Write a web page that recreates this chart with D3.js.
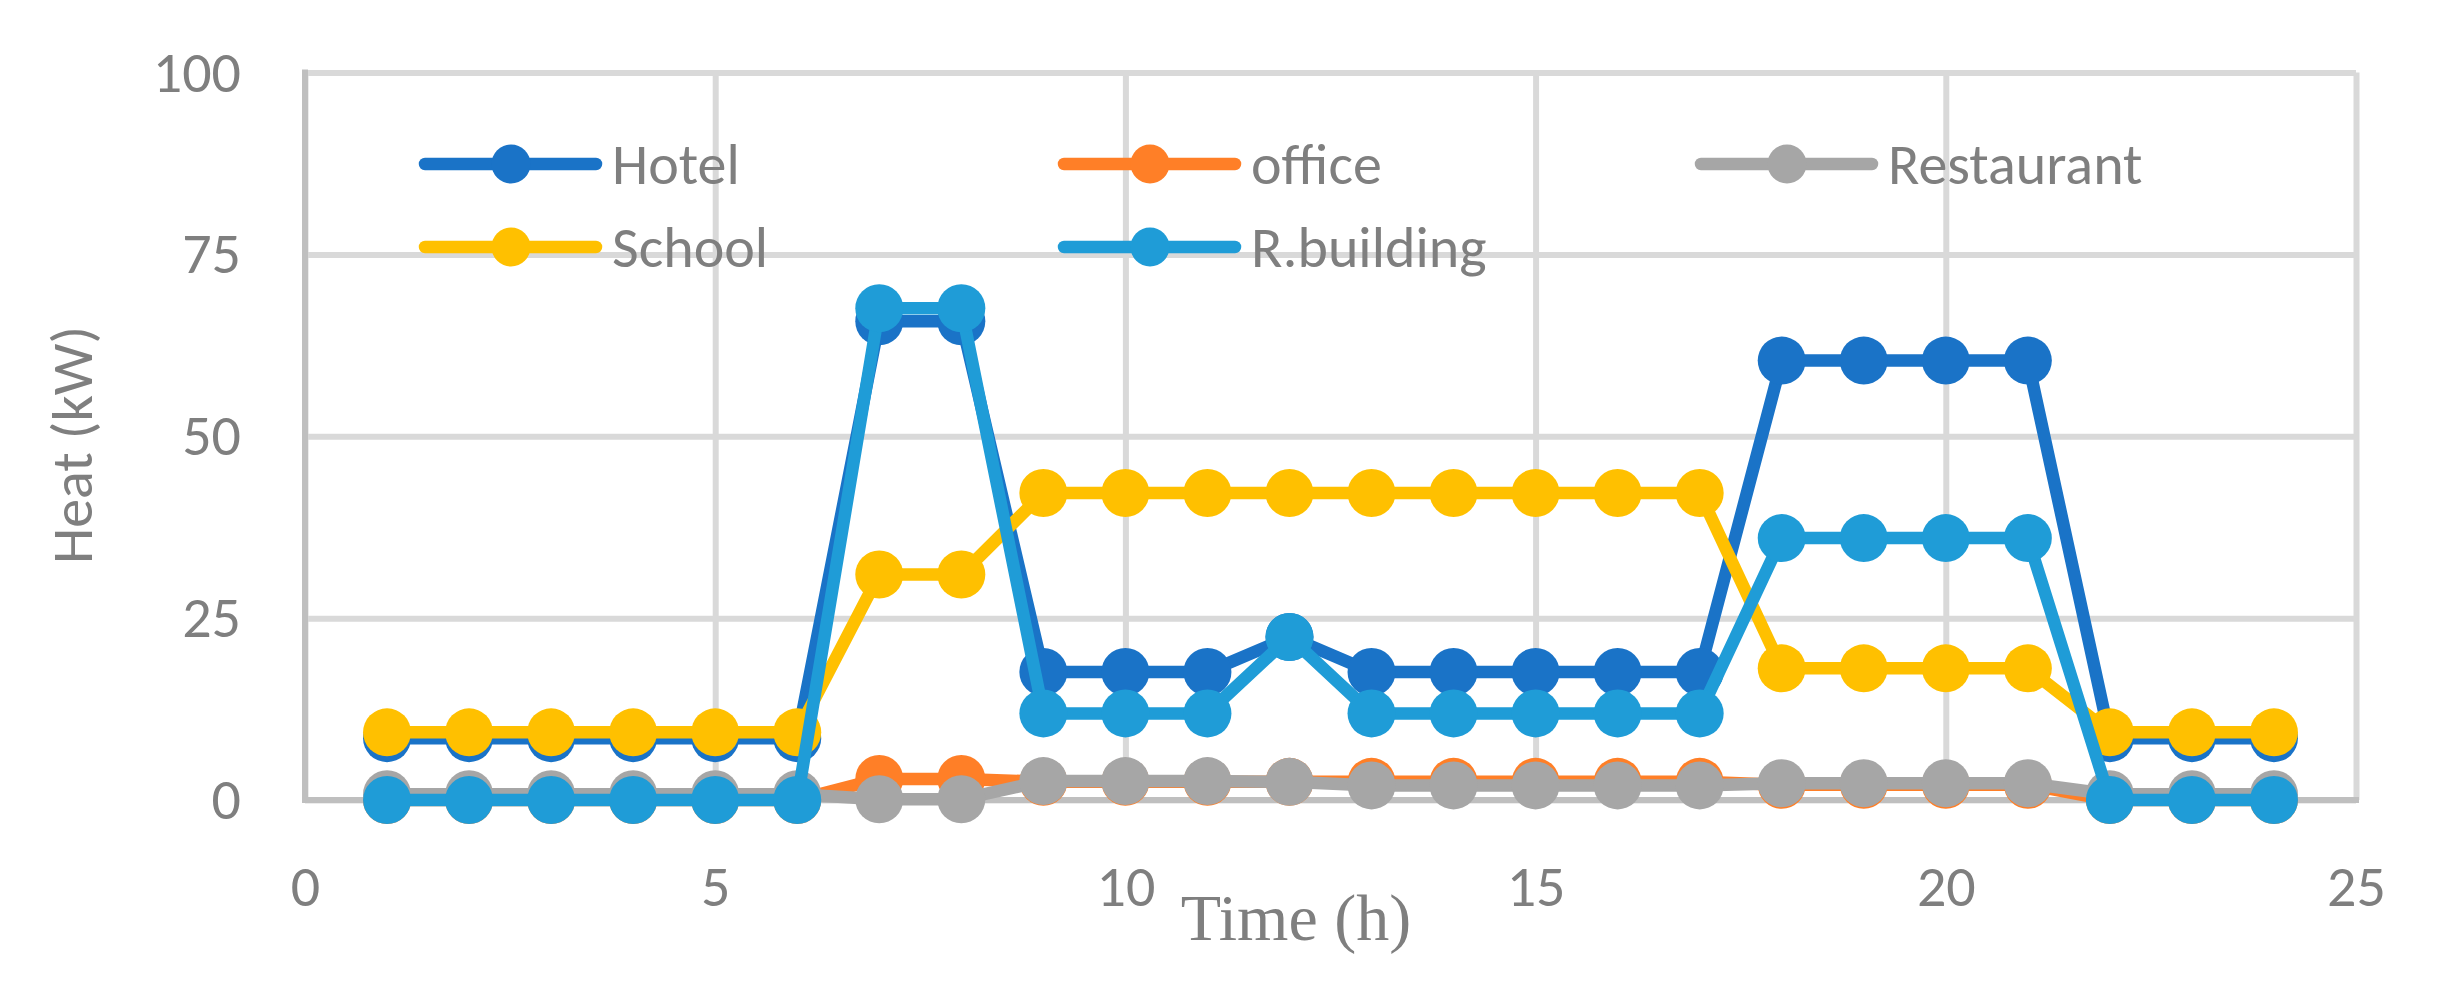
<!DOCTYPE html>
<html>
<head>
<meta charset="utf-8">
<script src="https://cdn.jsdelivr.net/npm/d3@7/dist/d3.min.js"></script>
<style>
  html, body { margin: 0; padding: 0; background: #ffffff; }
  svg { display: block; }
</style>
</head>
<body>
<svg id="chart" width="2447" height="988"></svg>
<script>
// ---- data ----
const hours = d3.range(1, 25);
const seriesNames = ["Hotel", "office", "Restaurant", "School", "R.building"];
const seriesColors = ["#1a73c7", "#ff7f27", "#a6a6a6", "#ffc000", "#1f9cd7"];
const hotel      = [8.5, 8.5, 8.5, 8.5, 8.5, 8.5, 65.8, 65.8, 17.6, 17.6, 17.6, 22.4, 17.6, 17.6, 17.6, 17.6, 17.6, 60.4, 60.4, 60.4, 60.4, 8.5, 8.5, 8.5];
const office     = [0, 0, 0, 0, 0, 0, 2.9, 2.9, 2.5, 2.5, 2.5, 2.5, 2.5, 2.5, 2.5, 2.5, 2.5, 2.1, 2.1, 2.1, 2.1, 0, 0, 0];
const restaurant = [0.8, 0.8, 0.8, 0.8, 0.8, 0.8, 0.1, 0.1, 2.6, 2.6, 2.6, 2.5, 2.0, 2.0, 2.0, 2.0, 2.0, 2.3, 2.3, 2.3, 2.3, 0.8, 0.8, 0.8];
const school     = [9.3, 9.3, 9.3, 9.3, 9.3, 9.3, 31.0, 31.0, 42.2, 42.2, 42.2, 42.2, 42.2, 42.2, 42.2, 42.2, 42.2, 18.1, 18.1, 18.1, 18.1, 9.3, 9.3, 9.3];
const rbuilding  = [0, 0, 0, 0, 0, 0, 67.6, 67.6, 11.9, 11.9, 11.9, 22.4, 11.9, 11.9, 11.9, 11.9, 11.9, 36.0, 36.0, 36.0, 36.0, 0, 0, 0];
const xTicks = [0, 5, 10, 15, 20, 25];
const yTicks = [0, 25, 50, 75, 100];
const xTitle = "Time (h)";
const yTitle = "Heat (kW)";

const seriesValues = [hotel, office, restaurant, school, rbuilding];

// ---- layout ----
const svg = d3.select("#chart");
svg.append("rect").attr("width", 2447).attr("height", 988).attr("fill", "#ffffff");

const x = d3.scaleLinear().domain([0, 25]).range([305, 2356]);
const y = d3.scaleLinear().domain([0, 100]).range([800, 72.5]);

const sansFont = "Carlito, Calibri, Lato, 'Open Sans', sans-serif";
const textColor = "#7f7f7f";

// grid via axes
const xAxis = d3.axisBottom(x).tickValues(xTicks).tickSizeInner(-(y(0) - y(100))).tickSizeOuter(0).tickPadding(65);
const yAxis = d3.axisLeft(y).tickValues(yTicks).tickSizeInner(-(x(25) - x(0))).tickSizeOuter(0).tickPadding(64);

const gx = svg.append("g").attr("transform", `translate(0,${y(0)})`).call(xAxis);
const gy = svg.append("g").attr("transform", `translate(${x(0)},0)`).call(yAxis);

[gx, gy].forEach(g => {
  g.select(".domain").remove();
  g.selectAll(".tick line").attr("stroke", "#d9d9d9").attr("stroke-width", 6);
  g.selectAll(".tick text")
    .attr("fill", textColor)
    .style("font-family", sansFont)
    .style("font-size", "58px");
});

// axis lines
svg.append("line").attr("x1", x(0)).attr("x2", x(0)).attr("y1", y(100) - 3).attr("y2", y(0) + 3)
  .attr("stroke", "#bfbfbf").attr("stroke-width", 6);
svg.append("line").attr("x1", x(0) - 3).attr("x2", x(25) + 3).attr("y1", y(0)).attr("y2", y(0))
  .attr("stroke", "#bfbfbf").attr("stroke-width", 6);

// series
const line = d3.line().x((d, i) => x(hours[i])).y(d => y(d));
seriesValues.forEach((vals, si) => {
  const g = svg.append("g");
  g.append("path")
    .attr("d", line(vals))
    .attr("fill", "none")
    .attr("stroke", seriesColors[si])
    .attr("stroke-width", 12.5)
    .attr("stroke-linejoin", "round")
    .attr("stroke-linecap", "round");
  g.selectAll("circle").data(vals).join("circle")
    .attr("cx", (d, i) => x(hours[i]))
    .attr("cy", d => y(d))
    .attr("r", 24)
    .attr("fill", seriesColors[si]);
});

// legend
const legendPos = [
  { lx: 425, ly: 164 }, { lx: 1064, ly: 164 }, { lx: 1701, ly: 164 },
  { lx: 425, ly: 247 }, { lx: 1064, ly: 247 }
];
seriesNames.forEach((name, si) => {
  const p = legendPos[si];
  const g = svg.append("g").attr("transform", `translate(${p.lx},${p.ly})`);
  g.append("line").attr("x1", 0).attr("x2", 171).attr("y1", 0).attr("y2", 0)
    .attr("stroke", seriesColors[si]).attr("stroke-width", 12.5).attr("stroke-linecap", "round");
  g.append("circle").attr("cx", 86).attr("cy", 0).attr("r", 19.5).attr("fill", seriesColors[si]);
  g.append("text").attr("x", 187).attr("y", 20)
    .attr("fill", textColor)
    .style("font-family", sansFont)
    .style("font-size", "58px")
    .text(name);
});

// axis titles
svg.append("text")
  .attr("x", 1296).attr("y", 940)
  .attr("text-anchor", "middle")
  .attr("fill", textColor)
  .style("font-family", "'Liberation Serif', 'Times New Roman', serif")
  .style("font-size", "66px")
  .text(xTitle);

svg.append("text")
  .attr("transform", "translate(92,445) rotate(-90)")
  .attr("text-anchor", "middle")
  .attr("fill", textColor)
  .style("font-family", sansFont)
  .style("font-size", "58px")
  .text(yTitle);
</script>
</body>
</html>
